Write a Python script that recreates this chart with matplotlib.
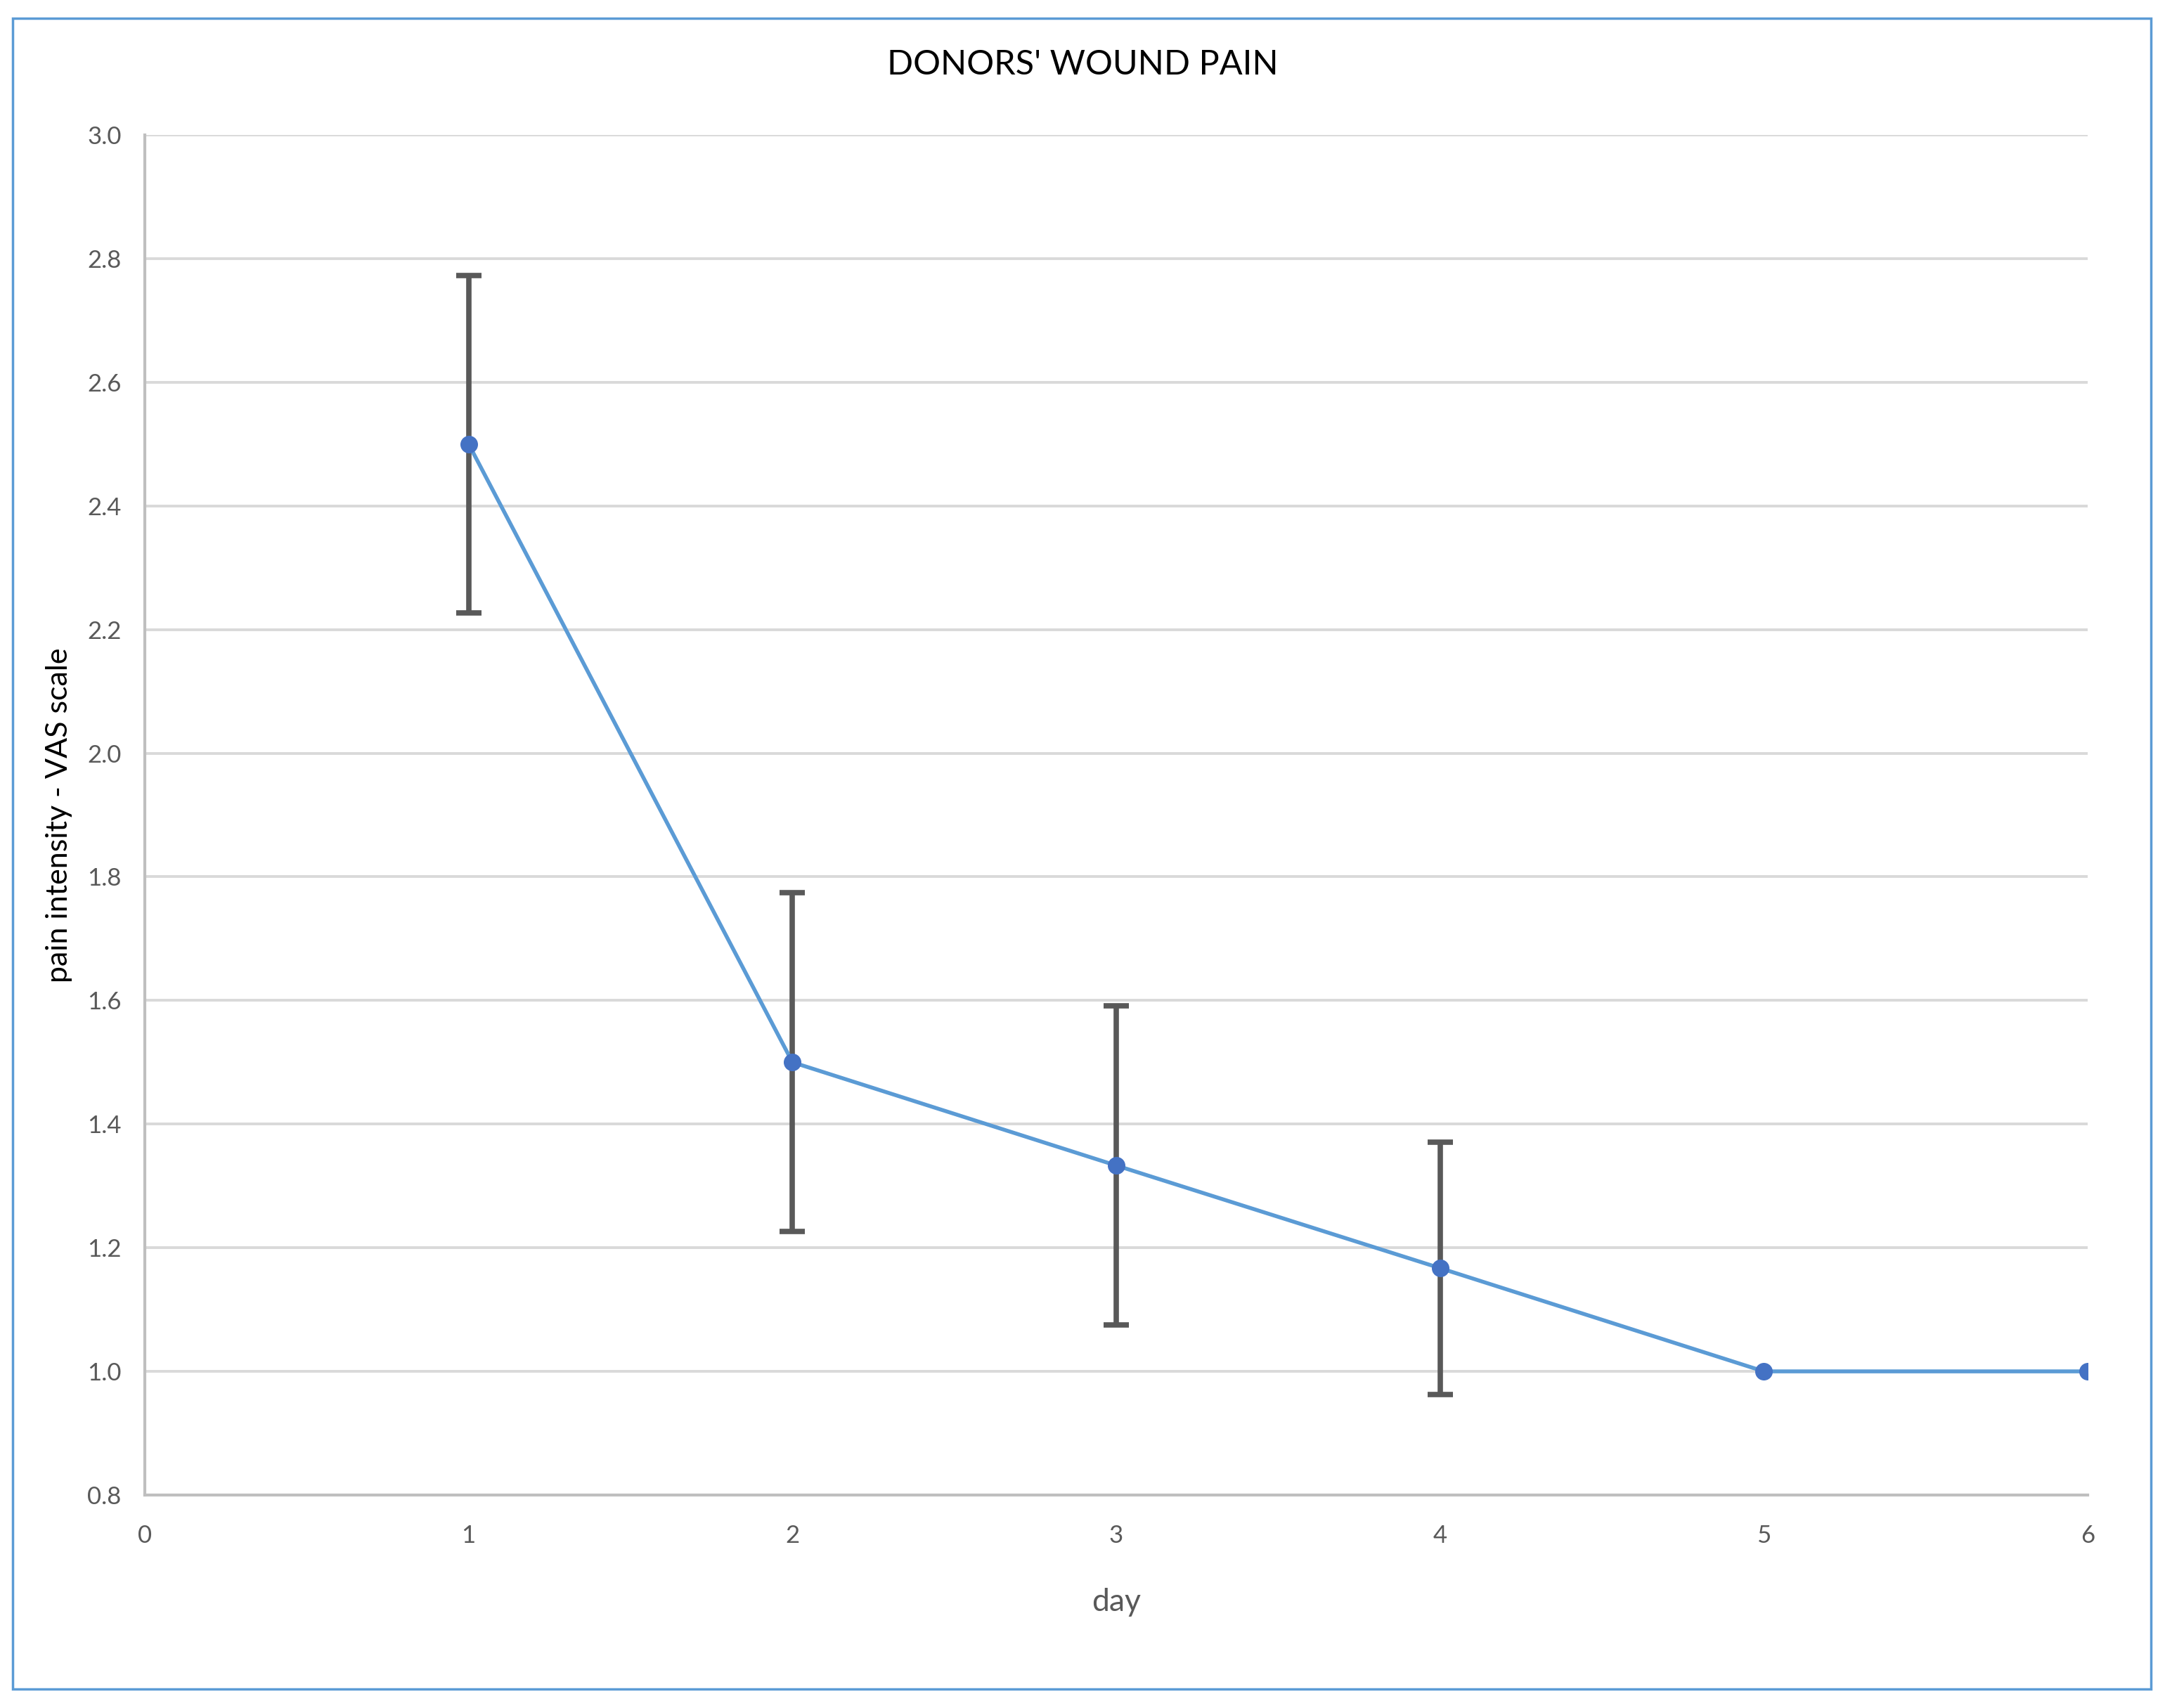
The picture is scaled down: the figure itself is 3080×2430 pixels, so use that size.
import numpy as np
from matplotlib import pyplot as plt
from matplotlib.patches import Rectangle

# data
days = [1, 2, 3, 4, 5, 6]
pain = [2.5, 1.5, 1.333, 1.167, 1.0, 1.0]
err = [0.273, 0.274, 0.258, 0.204, 0.0, 0.0]
xticks = [0, 1, 2, 3, 4, 5, 6]
yticks = [0.8, 1.0, 1.2, 1.4, 1.6, 1.8, 2.0, 2.2, 2.4, 2.6, 2.8, 3.0]

plt.rcParams['font.family'] = ['Lato', 'DejaVu Sans']

fig = plt.figure(figsize=(30.8, 24.3), dpi=100)
ax = fig.add_axes([0.0669, 0.1247, 0.8974, 0.7963])

#error bars only where there is an error
has_err = [i for i in range(len(days)) if err[i] > 0]
ax.errorbar([days[i] for i in has_err], [pain[i] for i in has_err],
            yerr=[err[i] for i in has_err], fmt='none', ecolor='#595959',
            elinewidth=5.5, capsize=13, capthick=5.5, zorder=3)
ax.plot(days, pain, color='#5B9BD5', linewidth=4, zorder=4)
ax.plot(days, pain, 'o', color='#4472C4', markersize=17, zorder=5)

ax.set_xlim(0, 6)
ax.set_ylim(0.8, 3.0)
ax.set_xticks(xticks)
ax.set_yticks(yticks)
ax.set_yticklabels(['%.1f' % v for v in yticks])
ax.tick_params(length=0, labelsize=25, labelcolor='#595959', pad=30)
ax.tick_params(axis='y', pad=24)
ax.grid(axis='y', color='#D9D9D9', linewidth=2.8)
ax.set_axisbelow(True)
for s in ['top', 'right']:
    ax.spines[s].set_visible(False)
for s in ['left', 'bottom']:
    ax.spines[s].set_color('#BFBFBF')
    ax.spines[s].set_linewidth(3)

ax.set_xlabel('day', fontsize=32, color='#595959', labelpad=42)
ax.set_ylabel('pain intensity - VAS scale', fontsize=31, color='black', labelpad=15)
fig.text(0.5, 0.962, "DONORS' WOUND PAIN", ha='center', va='center', fontsize=35)

#chart border
fig.patches.append(Rectangle((0.0057, 0.0113), 0.9879, 0.9782, transform=fig.transFigure,
                             fill=False, edgecolor='#5B9BD5', linewidth=2.5))

fig.savefig('out.png', dpi=100)
